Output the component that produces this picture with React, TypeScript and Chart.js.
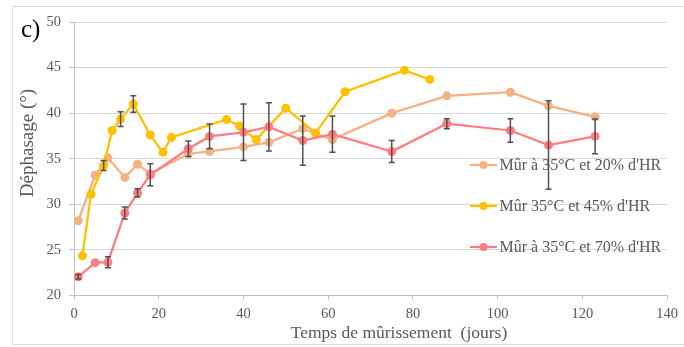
import React, { useEffect, useRef } from "react";
import { Chart, registerables } from "chart.js";

Chart.register(...registerables);

const SERIES_NAMES = [
  "Mûr à 35°C et 20% d'HR",
  "Mûr 35°C et 45% d'HR",
  "Mûr à 35°C et 70% d'HR",
];
const COLORS = ["#F4B183", "#FFC000", "#FF7C80"];

const daysA = [1, 5, 8, 12, 15, 18, 27, 32, 40, 46, 54, 61, 75, 88, 103, 112, 123];
const valuesA = [28.2, 33.2, 35.1, 32.95, 34.4, 33.35, 35.55, 35.8, 36.3, 36.8, 38.3, 37.1, 40.0, 41.9, 42.3, 40.8, 39.6];
const errorsA = [0, 0, 0, 0, 0, 0, 0, 0, 0, 0, 0, 0, 0, 0, 0, 0, 0];

const daysB = [2, 4, 7, 9, 11, 14, 18, 21, 23, 36, 39, 43, 50, 57, 64, 78, 84];
const valuesB = [24.35, 31.1, 34.25, 38.1, 39.35, 41.0, 37.6, 35.7, 37.35, 39.3, 38.6, 37.1, 40.55, 37.8, 42.35, 44.7, 43.7];
const errorsB = [0, 0, 0.55, 0, 0.8, 0.9, 0, 0, 0, 0, 0, 0, 0, 0, 0, 0, 0];

const daysC = [1, 5, 8, 12, 15, 18, 27, 32, 40, 46, 54, 61, 75, 88, 103, 112, 123];
const valuesC = [22.05, 23.6, 23.65, 29.05, 31.25, 33.25, 36.1, 37.45, 37.9, 38.5, 37.0, 37.7, 35.8, 38.85, 38.1, 36.5, 37.45];
const errorsC = [0.25, 0, 0.6, 0.65, 0.45, 1.2, 0.85, 1.35, 3.1, 2.65, 2.7, 2.0, 1.2, 0.55, 1.3, 4.85, 1.9];

const X_TICKS = [0, 20, 40, 60, 80, 100, 120, 140];
const Y_TICKS = [20, 25, 30, 35, 40, 45, 50];

const X_TITLE = "Temps de mûrissement  (jours)";
const Y_TITLE = "Déphasage (°)";
const PANEL_LABEL = "c)";

const FONT = "'Liberation Serif', 'Times New Roman', serif";
const GREY_TEXT = "#595959";

const ALL_DAYS = [daysA, daysB, daysC];
const ALL_VALUES = [valuesA, valuesB, valuesC];
const ALL_ERRORS = [errorsA, errorsB, errorsC];

const decorPlugin = {
  id: "decor",
  beforeDraw(chart: any) {
    const { ctx, width, height } = chart;
    ctx.save();
    ctx.fillStyle = "#ffffff";
    ctx.fillRect(0, 0, width, height);
    ctx.strokeStyle = "#d9d9d9";
    ctx.lineWidth = 1;
    ctx.beginPath();
    ctx.moveTo(width + 2, 6.5);
    ctx.lineTo(12.5, 6.5);
    ctx.lineTo(12.5, height - 2.5);
    ctx.lineTo(width + 2, height - 2.5);
    ctx.stroke();
    ctx.restore();
  },
  beforeDatasetsDraw(chart: any) {
    const { ctx, chartArea } = chart;
    ctx.save();
    const lx = chartArea.left + 396;
    const ly0 = chartArea.top + 143;
    const step = 41;
    ctx.font = `16px ${FONT}`;
    ctx.textBaseline = "middle";
    ctx.textAlign = "left";
    SERIES_NAMES.forEach((name, i) => {
      const y = ly0 + i * step;
      ctx.strokeStyle = COLORS[i];
      ctx.lineWidth = 2.25;
      ctx.beginPath();
      ctx.moveTo(lx, y);
      ctx.lineTo(lx + 27, y);
      ctx.stroke();
      ctx.fillStyle = COLORS[i];
      ctx.beginPath();
      ctx.arc(lx + 13.5, y, 4, 0, Math.PI * 2);
      ctx.fill();
      ctx.fillStyle = GREY_TEXT;
      ctx.fillText(name, lx + 29.5, y + 1);
    });
    ctx.restore();
  },
  afterDatasetsDraw(chart: any) {
    const { ctx } = chart;
    const xs = chart.scales.x;
    const ys = chart.scales.y;
    ctx.save();
    ctx.strokeStyle = "#505050";
    ctx.lineWidth = 1.5;
    ALL_DAYS.forEach((days, si) => {
      days.forEach((d, i) => {
        const e = ALL_ERRORS[si][i];
        if (!e) return;
        const v = ALL_VALUES[si][i];
        const px = xs.getPixelForValue(d);
        const top = ys.getPixelForValue(v + e);
        const bot = ys.getPixelForValue(v - e);
        ctx.beginPath();
        ctx.moveTo(px, top);
        ctx.lineTo(px, bot);
        ctx.moveTo(px - 3, top);
        ctx.lineTo(px + 3, top);
        ctx.moveTo(px - 3, bot);
        ctx.lineTo(px + 3, bot);
        ctx.stroke();
      });
    });
    ctx.restore();
  },
  afterDraw(chart: any) {
    const { ctx, chartArea } = chart;
    ctx.save();
    ctx.fillStyle = GREY_TEXT;
    ctx.font = `17.5px ${FONT}`;
    ctx.textAlign = "center";
    ctx.textBaseline = "middle";
    ctx.fillText(X_TITLE, chartArea.left + 325, chartArea.bottom + 38);
    ctx.save();
    ctx.translate(28, chartArea.top + 121);
    ctx.rotate(-Math.PI / 2);
    ctx.font = `19px ${FONT}`;
    ctx.fillText(Y_TITLE, 0, 0);
    ctx.restore();
    ctx.fillStyle = "#000000";
    ctx.font = `25px ${FONT}`;
    ctx.textAlign = "left";
    ctx.fillText(PANEL_LABEL, 21, 30);
    ctx.restore();
  },
};

export default function App() {
  const ref = useRef<HTMLCanvasElement | null>(null);
  useEffect(() => {
    document.body.style.margin = "0";
    const canvas = ref.current!;
    const datasets = SERIES_NAMES.map((name, i) => ({
      label: name,
      data: ALL_DAYS[i].map((d, j) => ({ x: d, y: ALL_VALUES[i][j] })),
      borderColor: COLORS[i],
      backgroundColor: COLORS[i],
      pointBackgroundColor: COLORS[i],
      pointBorderColor: COLORS[i],
      pointRadius: 4.5,
      pointBorderWidth: 0,
      borderWidth: 2.25,
      tension: 0,
      order: 3 - i,
    }));
    const chart = new Chart(canvas, {
      type: "line",
      data: { datasets },
      options: {
        animation: false,
        responsive: false,
        devicePixelRatio: 1,
        layout: { padding: { left: 0, top: 22, right: 12, bottom: 0 } },
        plugins: { legend: { display: false }, tooltip: { enabled: false } },
        scales: {
          x: {
            type: "linear",
            min: 0,
            max: 140,
            afterBuildTicks: (s: any) => {
              s.ticks = X_TICKS.map((v) => ({ value: v }));
            },
            afterFit: (s: any) => {
              s.height = 51.5;
            },
            grid: {
              drawOnChartArea: false,
              drawTicks: true,
              tickLength: 4,
              tickColor: "#bfbfbf",
            },
            border: { display: true, color: "#bfbfbf", width: 1 },
            ticks: {
              color: GREY_TEXT,
              font: { family: FONT, size: 14.5 },
              padding: 6,
              maxRotation: 0,
            },
          },
          y: {
            type: "linear",
            min: 20,
            max: 50,
            afterBuildTicks: (s: any) => {
              s.ticks = Y_TICKS.map((v) => ({ value: v }));
            },
            afterFit: (s: any) => {
              s.width = 74;
            },
            grid: {
              color: "#d9d9d9",
              lineWidth: 1,
              drawTicks: true,
              tickLength: 5,
              tickColor: "#bfbfbf",
            },
            border: { display: true, color: "#bfbfbf", width: 1 },
            ticks: {
              color: GREY_TEXT,
              font: { family: FONT, size: 14.5 },
              padding: 8,
            },
          },
        },
      },
      plugins: [decorPlugin],
    } as any);
    return () => chart.destroy();
  }, []);
  return (
    <div style={{ position: "fixed", left: 0, top: 0, width: 684, height: 347, background: "#fff" }}>
      <canvas ref={ref} width={684} height={347} style={{ width: 684, height: 347, display: "block" }} />
    </div>
  );
}
